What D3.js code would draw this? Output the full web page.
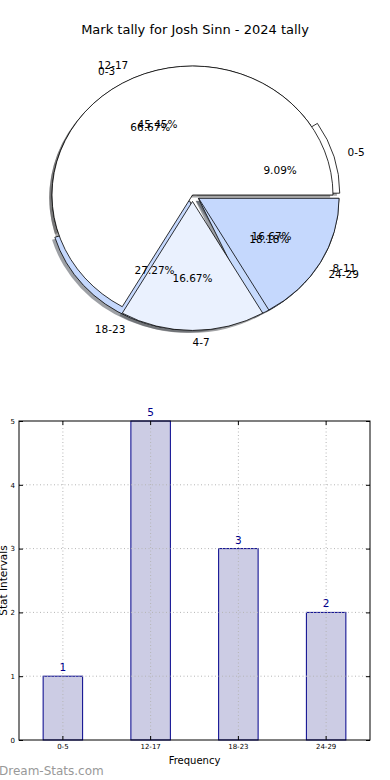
<!DOCTYPE html>
<html lang="en">
<head>
<meta charset="UTF-8">
<script src="https://d3js.org/d3.v7.min.js"></script>
<style>
    body { margin: 0; background: #fff; }
    svg { font-family: "DejaVu Sans", sans-serif; }
    .wedge { stroke: #000; stroke-width: 0.8; vector-effect: non-scaling-stroke; }
    .axis path, .axis line { stroke: #000; }
    .grid line { stroke: #b5b5b5; stroke-dasharray: 1,2.5; }
</style>
</head>
<body>
<svg width="390" height="780"></svg>
<script>
    // chart data
    const title = "Mark tally for Josh Sinn - 2024 tally";
    const intervals = ["0-5", "12-17", "18-23", "24-29"];
    const counts = [1, 5, 3, 2];
    const markBands = ["0-3", "4-7", "8-11"];
    const markCounts = [4, 1, 1];
    const yTicks = [0, 1, 2, 3, 4, 5];

    const svg = d3.select("svg");

    svg.append("text")
        .attr("x", 195).attr("y", 30)
        .attr("text-anchor", "middle")
        .attr("dominant-baseline", "middle")
        .style("font-size", "13px")
        .text(title);

    // ---------- pie (two pies on the same axes, matplotlib style) ----------
    const cx = 192.5, cy = 195, rx = 140.5, ry = 129;
    const colors = ["#ffffff", "#eaf1fe", "#c5d8fd", "#c6dafd"];

    // counter clockwise from 3 o'clock
    const pie = d3.pie().sort(null)
        .startAngle(Math.PI / 2)
        .endAngle(Math.PI / 2 - 2 * Math.PI);
    const arc = d3.arc().innerRadius(0).outerRadius(1);
    const pct = v => d3.format(".2f")(v) + "%";

    const pies = [
        { labels: intervals, values: counts, explode: [0.05, 0, 0.05, 0.05] },
        { labels: markBands, values: markCounts, explode: [0, 0.05, 0.05] }
    ];

    const slices = [];
    pies.forEach((p, pi) => {
        const total = d3.sum(p.values);
        pie(p.values).forEach((s, i) => {
            const mid = (s.startAngle + s.endAngle) / 2;
            const e = p.explode[i];
            slices.push({
                s, pi,
                label: p.labels[i],
                frac: s.value / total * 100,
                color: colors[i % colors.length],
                mid,
                dx: e * Math.sin(mid),
                dy: -e * Math.cos(mid)
            });
        });
    });

    const pg = svg.append("g")
        .attr("transform", `translate(${cx},${cy}) scale(${rx},${ry})`);

    // shadows under every wedge
    pg.selectAll(".shadow")
        .data(slices)
        .join("path")
        .attr("class", "shadow")
        .attr("d", d => arc(d.s))
        .attr("transform", d => `translate(${d.dx - 0.02},${d.dy + 0.02})`)
        .attr("fill", d => {
            const c = d3.rgb(d.color);
            return d3.rgb(c.r * 0.3, c.g * 0.3, c.b * 0.3);
        })
        .attr("opacity", 0.5);

    pg.selectAll(".wedge")
        .data(slices)
        .join("path")
        .attr("class", "wedge")
        .attr("d", d => arc(d.s))
        .attr("transform", d => `translate(${d.dx},${d.dy})`)
        .attr("fill", d => d.color);

    const tg = svg.append("g").style("font-size", "10.5px");
    slices.forEach(d => {
        const lx = cx + rx * (d.dx + 1.1 * Math.sin(d.mid));
        const ly = cy + ry * (d.dy - 1.1 * Math.cos(d.mid));
        tg.append("text")
            .attr("x", lx).attr("y", ly)
            .attr("text-anchor", Math.sin(d.mid) > -1e-9 ? "start" : "end")
            .attr("dominant-baseline", "middle")
            .text(d.label);
        tg.append("text")
            .attr("x", cx + rx * (d.dx + 0.6 * Math.sin(d.mid)))
            .attr("y", cy + ry * (d.dy - 0.6 * Math.cos(d.mid)))
            .attr("text-anchor", "middle")
            .attr("dominant-baseline", "middle")
            .text(pct(d.frac));
    });

    // ---------- bar chart ----------
    const plotL = 19, plotR = 370, plotT = 421, plotB = 740;
    const x = d3.scaleBand().domain(intervals).range([plotL, plotR])
        .paddingInner(0.55).paddingOuter(0.275);
    const y = d3.scaleLinear().domain([0, 5]).range([plotB, plotT]);

    svg.append("g")
        .selectAll("rect")
        .data(intervals)
        .join("rect")
        .attr("x", d => x(d))
        .attr("y", (d, i) => y(counts[i]))
        .attr("width", x.bandwidth())
        .attr("height", (d, i) => y(0) - y(counts[i]))
        .attr("fill", "#ccccE4")
        .attr("stroke", "#00008b")
        .attr("stroke-width", 1);

    const grid = svg.append("g").attr("class", "grid");
    grid.selectAll(".gv").data(intervals).join("line")
        .attr("class", "gv")
        .attr("x1", d => x(d) + x.bandwidth() / 2).attr("x2", d => x(d) + x.bandwidth() / 2)
        .attr("y1", plotT).attr("y2", plotB);
    grid.selectAll(".gh").data(yTicks.slice(1, -1)).join("line")
        .attr("class", "gh")
        .attr("x1", plotL).attr("x2", plotR)
        .attr("y1", d => y(d)).attr("y2", d => y(d));

    svg.append("g")
        .selectAll("text")
        .data(intervals)
        .join("text")
        .attr("x", d => x(d) + x.bandwidth() / 2)
        .attr("y", (d, i) => y(counts[i]) - 5)
        .attr("text-anchor", "middle")
        .style("font-size", "10.5px")
        .attr("fill", "#00008b")
        .text((d, i) => counts[i]);

    svg.append("g").attr("class", "axis")
        .attr("transform", `translate(${plotL},0)`)
        .call(d3.axisLeft(y).tickValues(yTicks).tickFormat(d3.format("d"))
            .tickSizeInner(-4).tickSizeOuter(0).tickPadding(4))
        .call(g => g.select(".domain").remove())
        .selectAll("text").style("font-size", "7px").style("font-family", "DejaVu Sans");
    svg.append("g").attr("class", "axis")
        .attr("transform", `translate(${plotR},0)`)
        .call(d3.axisRight(y).tickValues(yTicks).tickSizeInner(-4).tickSizeOuter(0).tickFormat(""))
        .call(g => g.select(".domain").remove());
    svg.append("g").attr("class", "axis")
        .attr("transform", `translate(0,${plotB})`)
        .call(d3.axisBottom(x).tickSizeInner(-4).tickSizeOuter(0).tickPadding(4))
        .call(g => g.select(".domain").remove())
        .selectAll("text").style("font-size", "7px").style("font-family", "DejaVu Sans");
    svg.append("g").attr("class", "axis")
        .attr("transform", `translate(0,${plotT})`)
        .call(d3.axisTop(x).tickSizeInner(-4).tickSizeOuter(0).tickFormat(""))
        .call(g => g.select(".domain").remove());

    svg.append("rect")
        .attr("x", plotL).attr("y", plotT)
        .attr("width", plotR - plotL).attr("height", plotB - plotT)
        .attr("fill", "none").attr("stroke", "#000").attr("stroke-width", 1);

    svg.append("text")
        .attr("x", (plotL + plotR) / 2).attr("y", 764)
        .attr("text-anchor", "middle")
        .style("font-size", "10px")
        .text("Frequency");

    svg.append("text")
        .attr("transform", `translate(7,${(plotT + plotB) / 2}) rotate(-90)`)
        .attr("text-anchor", "middle")
        .style("font-size", "10.5px")
        .text("Stat Intervals");

    svg.append("text")
        .attr("x", -1).attr("y", 775)
        .style("font-size", "12px")
        .attr("fill", "#999")
        .text("Dream-Stats.com");
</script>
</body>
</html>
